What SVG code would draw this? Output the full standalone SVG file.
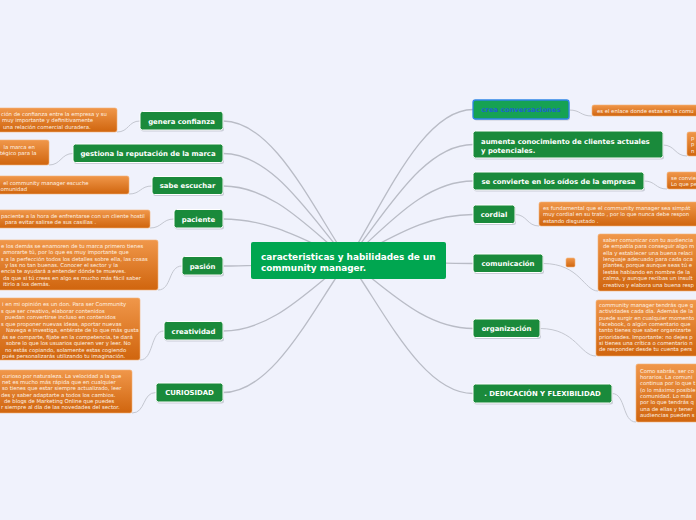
<svg xmlns="http://www.w3.org/2000/svg" width="696" height="520" viewBox="0 0 696 520">
<defs>
<linearGradient id="og" x1="0" y1="0" x2="0" y2="1">
<stop offset="0" stop-color="#f0974a"/>
<stop offset="1" stop-color="#d0650e"/>
</linearGradient>
</defs>
<style>
.bg{fill:#f0f2fc}
.con{fill:none;stroke:#b9bcc6;stroke-width:1.3}
.sub{fill:none;stroke:#c4c7d0;stroke-width:1}
.sh{fill:#b8bcc8;opacity:.7}
.nd{fill:#1a8a3b;stroke:#ffffff;stroke-width:1}
.nt{font-family:"DejaVu Sans",Verdana,sans-serif;font-weight:bold;font-size:6.9px;fill:#ffffff}
.rt{font-family:"DejaVu Sans",Verdana,sans-serif;font-weight:bold;font-size:8.9px;fill:#ffffff}
.note{fill:url(#og);stroke:#f4b47a;stroke-width:.6}
.tt{font-family:"DejaVu Sans",Verdana,sans-serif;font-size:5.3px;fill:#fff3e6}
</style>
<rect class="bg" x="0" y="0" width="696" height="520"/>

<g id="connectors">
<path class="con" d="M223,121 C273,121 310.5,204 348,260"/>
<path class="con" d="M223,153.5 C273,153.5 310.5,217 348,260"/>
<path class="con" d="M223,186 C273,186 310.5,230 348,260"/>
<path class="con" d="M223,219 C273,219 310.5,243.6 348,260"/>
<path class="con" d="M223,266 C273,266 310.5,262 348,260"/>
<path class="con" d="M223,331 C273,331 310.5,288 348,260"/>
<path class="con" d="M223,392.5 C273,392.5 310.5,313 348,260"/>
<path class="con" d="M473,109.5 C423,109.5 385.5,200 348,260"/>
<path class="con" d="M473,144.5 C423,144.5 385.5,214 348,260"/>
<path class="con" d="M473,181 C423,181 385.5,228 348,260"/>
<path class="con" d="M473,214.5 C423,214.5 385.5,242 348,260"/>
<path class="con" d="M473,263.5 C423,263.5 385.5,261 348,260"/>
<path class="con" d="M473,328.5 C423,328.5 385.5,287 348,260"/>
<path class="con" d="M473,393.5 C423,393.5 385.5,313 348,260"/>
<path class="sub" d="M140,121 C128,121 129,132 117,132"/>
<path class="sub" d="M73,153.5 C61,153.5 61,165 49,165"/>
<path class="sub" d="M152,186 C140,186 141,194 129,194"/>
<path class="sub" d="M174,219 C162,219 162,228 150,228"/>
<path class="sub" d="M182,266 C168,266 172,290 158,290"/>
<path class="sub" d="M164,331 C150,331 154,360 140,360"/>
<path class="sub" d="M156,392.5 C142,392.5 146,413 132,413"/>
<path class="sub" d="M569,110 C581,110 580,116 592,116"/>
<path class="sub" d="M663,145 C675,145 675,156 687,156"/>
<path class="sub" d="M644,181 C656,181 655,189 667,189"/>
<path class="sub" d="M515,214.5 C527,214.5 527,226 539,226"/>
<path class="sub" d="M543,263.5 C580,263.5 584,291 598,291"/>
<path class="sub" d="M540,328.5 C576,328.5 580,356 596,356"/>
<path class="sub" d="M612,393.5 C626,393.5 622,422 636,422"/>
</g>

<g id="root">
<rect x="251" y="242" width="195" height="37" rx="2" fill="#00a650"/>
<text class="rt" x="261" y="259.5">caracteristicas y habilidades de un</text>
<text class="rt" x="261" y="270.5">community manager.</text>
</g>

<g id="n-confianza">
<rect class="sh" x="141" y="113" width="83" height="18.5" rx="2.5"/>
<rect class="nd" x="140" y="111.5" width="83" height="18.5" rx="2.5"/>
<text class="nt" x="181.5" y="123.5" text-anchor="middle">genera confianza</text>
</g>
<g id="n-reputacion">
<rect class="sh" x="74" y="145.5" width="150" height="18.5" rx="2.5"/>
<rect class="nd" x="73" y="144" width="150" height="18.5" rx="2.5"/>
<text class="nt" x="148" y="156" text-anchor="middle">gestiona la reputación de la marca</text>
</g>
<g id="n-escuchar">
<rect class="sh" x="153" y="178" width="71" height="18" rx="2.5"/>
<rect class="nd" x="152" y="176.5" width="71" height="18" rx="2.5"/>
<text class="nt" x="187.5" y="188.3" text-anchor="middle">sabe escuchar</text>
</g>
<g id="n-paciente">
<rect class="sh" x="175" y="211" width="49" height="18.5" rx="2.5"/>
<rect class="nd" x="174" y="209.5" width="49" height="18.5" rx="2.5"/>
<text class="nt" x="198.5" y="221.5" text-anchor="middle">paciente</text>
</g>
<g id="n-pasion">
<rect class="sh" x="183" y="258" width="41" height="18.5" rx="2.5"/>
<rect class="nd" x="182" y="256.5" width="41" height="18.5" rx="2.5"/>
<text class="nt" x="202.5" y="268.5" text-anchor="middle">pasión</text>
</g>
<g id="n-creatividad">
<rect class="sh" x="165" y="323" width="59" height="18.5" rx="2.5"/>
<rect class="nd" x="164" y="321.5" width="59" height="18.5" rx="2.5"/>
<text class="nt" x="193.5" y="333.5" text-anchor="middle">creatividad</text>
</g>
<g id="n-curiosidad">
<rect class="sh" x="157" y="384.5" width="67" height="19" rx="2.5"/>
<rect class="nd" x="156" y="383" width="67" height="19" rx="2.5"/>
<text class="nt" x="189.5" y="395" text-anchor="middle">CURIOSIDAD</text>
</g>

<g id="n-conversaciones">
<rect class="sh" x="474" y="101.5" width="96" height="19" rx="2.5"/>
<rect x="473" y="100" width="96" height="19" rx="2.5" fill="#16a253" stroke="#2f86e6" stroke-width="1.3"/>
<text class="nt" x="521" y="112" text-anchor="middle" style="fill:#1d63cf">crea conversaciones</text>
</g>
<g id="n-conocimiento">
<rect class="sh" x="474" y="132.5" width="190" height="27" rx="2.5"/>
<rect class="nd" x="473" y="131" width="190" height="27" rx="2.5"/>
<text class="nt" x="481" y="143.5">aumenta conocimiento de clientes actuales</text>
<text class="nt" x="481" y="152.5">y potenciales.</text>
</g>
<g id="n-oidos">
<rect class="sh" x="474" y="173.5" width="171" height="18" rx="2.5"/>
<rect class="nd" x="473" y="172" width="171" height="18" rx="2.5"/>
<text class="nt" x="558.5" y="183.8" text-anchor="middle">se convierte en los oídos de la empresa</text>
</g>
<g id="n-cordial">
<rect class="sh" x="474" y="206.5" width="42" height="18.5" rx="2.5"/>
<rect class="nd" x="473" y="205" width="42" height="18.5" rx="2.5"/>
<text class="nt" x="494" y="217" text-anchor="middle">cordial</text>
</g>
<g id="n-comunicacion">
<rect class="sh" x="474" y="255.5" width="70" height="18.5" rx="2.5"/>
<rect class="nd" x="473" y="254" width="70" height="18.5" rx="2.5"/>
<text class="nt" x="508" y="266" text-anchor="middle">comunicación</text>
</g>
<g id="n-organizacion">
<rect class="sh" x="474" y="320.5" width="67" height="18.5" rx="2.5"/>
<rect class="nd" x="473" y="319" width="67" height="18.5" rx="2.5"/>
<text class="nt" x="506.5" y="331" text-anchor="middle">organización</text>
</g>
<g id="n-dedicacion">
<rect class="sh" x="474" y="385.5" width="139" height="19" rx="2.5"/>
<rect class="nd" x="473" y="384" width="139" height="19" rx="2.5"/>
<text class="nt" x="542.5" y="396.3" text-anchor="middle">. DEDICACIÓN Y FLEXIBILIDAD</text>
</g>

<g id="note-confianza">
<rect class="note" x="-4" y="108" width="121" height="24" rx="2"/>
<text class="tt" x="1" y="116">ción de confianza entre la empresa y su</text>
<text class="tt" x="2" y="122.3">muy importante y definitivamente</text>
<text class="tt" x="3" y="128.8">una relación comercial duradera.</text>
</g>
<g id="note-reputacion">
<rect class="note" x="-4" y="140" width="53" height="25" rx="2"/>
<text class="tt" x="3.5" y="148.5">la marca en</text>
<text class="tt" x="0" y="155">tégico para la</text>
</g>
<g id="note-escuchar">
<rect class="note" x="-4" y="176" width="133" height="18" rx="2"/>
<text class="tt" x="3.3" y="184.5">el community manager escuche</text>
<text class="tt" x="0.5" y="191">omunidad</text>
</g>
<g id="note-paciente">
<rect class="note" x="-4" y="210" width="154" height="18" rx="2"/>
<text class="tt" x="1" y="217.5">paciente a la hora de enfrentarse con un cliente hostil</text>
<text class="tt" x="5" y="224">para evitar salirse de sus casillas .</text>
</g>
<g id="note-pasion">
<rect class="note" x="-4" y="240" width="162" height="50" rx="2"/>
<text class="tt" x="1" y="247.8">e los demás se enamoren de tu marca primero tienes</text>
<text class="tt" x="3" y="254.1">amorarte tú, por lo que es muy importante que</text>
<text class="tt" x="1" y="260.5">s a la perfección todos los detalles sobre ella, las cosas</text>
<text class="tt" x="5" y="266.8">y las no tan buenas. Conocer el sector y la</text>
<text class="tt" x="1" y="273.1">encia te ayudará a entender dónde te mueves.</text>
<text class="tt" x="3" y="279.5">da que si tú crees en algo es mucho más fácil saber</text>
<text class="tt" x="3" y="285.8">itirlo a los demás.</text>
</g>
<g id="note-creatividad">
<rect class="note" x="-4" y="298" width="144" height="62" rx="2"/>
<text class="tt" x="2" y="306">i en mi opinión es un don. Para ser Community</text>
<text class="tt" x="1" y="312.5">s que ser creativo, elaborar contenidos</text>
<text class="tt" x="5" y="319">puedan convertirse incluso en contenidos</text>
<text class="tt" x="1" y="325.5">s que proponer nuevas ideas, aportar nuevas</text>
<text class="tt" x="6" y="332">Navega e investiga, entérate de lo que más gusta</text>
<text class="tt" x="2" y="338.5">ás se comparte, fíjate en la competencia, te dará</text>
<text class="tt" x="6" y="345">sobre lo que los usuarios quieren ver y leer. No</text>
<text class="tt" x="5" y="351.5">no estás copiando, solamente estas cogiendo</text>
<text class="tt" x="2" y="358">pués personalizarás utilizando tu imaginación.</text>
</g>
<g id="note-curiosidad">
<rect class="note" x="-4" y="370" width="136" height="43" rx="2"/>
<text class="tt" x="2" y="377.5">curioso por naturaleza. La velocidad a la que</text>
<text class="tt" x="2" y="383.8">net es mucho más rápida que en cualquier</text>
<text class="tt" x="2" y="390.2">so tienes que estar siempre actualizado, leer</text>
<text class="tt" x="1" y="396.5">des y saber adaptarte a todos los cambios.</text>
<text class="tt" x="4" y="402.9">de blogs de Marketing Online que puedes</text>
<text class="tt" x="1" y="409.2">r siempre al día de las novedades del sector.</text>
</g>

<g id="note-conversaciones">
<rect class="note" x="592" y="105" width="110" height="11" rx="2"/>
<text class="tt" x="597" y="112.5">es el enlace donde estas en la comu</text>
</g>
<g id="note-conocimiento">
<rect class="note" x="687" y="132" width="15" height="24" rx="2"/>
<text class="tt" x="691" y="140">p</text>
<text class="tt" x="691" y="146.3">p</text>
<text class="tt" x="691" y="152.6">n</text>
</g>
<g id="note-oidos">
<rect class="note" x="667" y="172" width="35" height="17" rx="2"/>
<text class="tt" x="671" y="179.5">se convie</text>
<text class="tt" x="671" y="186">Lo que pe</text>
</g>
<g id="note-cordial">
<rect class="note" x="539" y="202" width="163" height="24" rx="2"/>
<text class="tt" x="543" y="209.5">es fundamental que el community manager sea simpát</text>
<text class="tt" x="543" y="216">muy cordial en su trato , por lo que nunca debe respon</text>
<text class="tt" x="543" y="222.5">estando disgustado .</text>
</g>
<g id="note-square">
<rect class="note" x="566" y="258" width="9" height="9" rx="1.5"/>
</g>
<g id="note-comunicacion">
<rect class="note" x="598" y="234" width="104" height="57" rx="2"/>
<text class="tt" x="603" y="241.8">saber comunicar con tu audiencia</text>
<text class="tt" x="603" y="248.2">de empatía para conseguir algo m</text>
<text class="tt" x="603" y="254.6">ella y establecer una buena relaci</text>
<text class="tt" x="603" y="261">lenguaje adecuado para cada oca</text>
<text class="tt" x="603" y="267.4">plantes, porque aunque seas tú e</text>
<text class="tt" x="603" y="273.8">lestás hablando en nombre de la</text>
<text class="tt" x="603" y="280.2">calma, y aunque recibas un insult</text>
<text class="tt" x="603" y="286.5">creativo y elabora una buena resp</text>
</g>
<g id="note-organizacion">
<rect class="note" x="596" y="300" width="106" height="56" rx="2"/>
<text class="tt" x="599" y="306.8">community manager tendrás que g</text>
<text class="tt" x="599" y="313.2">actividades cada día. Además de la</text>
<text class="tt" x="599" y="319.5">puede surgir en cualquier momento</text>
<text class="tt" x="599" y="325.9">Facebook, o algún comentario que</text>
<text class="tt" x="599" y="332.2">tanto tienes que saber organizarte</text>
<text class="tt" x="599" y="338.6">prioridades. Importante: no dejes p</text>
<text class="tt" x="599" y="345">si tienes una crítica o comentario n</text>
<text class="tt" x="599" y="351.3">de responder desde tu cuenta pers</text>
</g>
<g id="note-dedicacion">
<rect class="note" x="636" y="364" width="66" height="58" rx="2"/>
<text class="tt" x="640" y="372.5">Como sabrás, ser co</text>
<text class="tt" x="640" y="378.8">horarios. La comuni</text>
<text class="tt" x="640" y="385.2">continua por lo que t</text>
<text class="tt" x="640" y="391.5">(o lo máximo posible</text>
<text class="tt" x="640" y="397.9">comunidad. Lo más</text>
<text class="tt" x="640" y="404.2">por lo que tendrás q</text>
<text class="tt" x="640" y="410.6">una de ellas y tener</text>
<text class="tt" x="640" y="417">audiencias pueden s</text>
</g>
</svg>
